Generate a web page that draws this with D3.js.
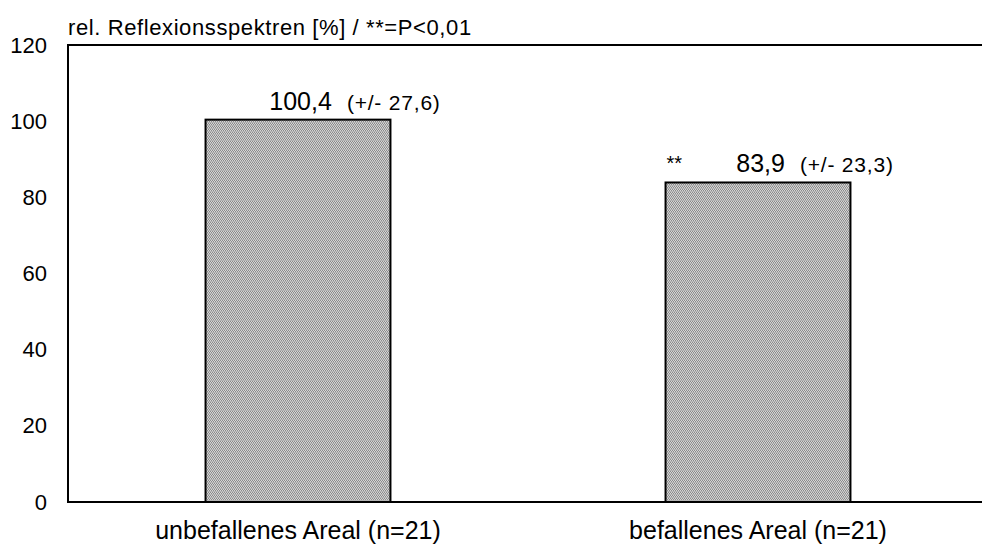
<!DOCTYPE html>
<html>
<head>
<meta charset="utf-8">
<script src="https://cdn.jsdelivr.net/npm/d3@7"></script>
<style>
  html, body { margin: 0; padding: 0; background: #fff; }
  svg { display: block; font-family: "Liberation Sans", Arial, sans-serif; }
</style>
</head>
<body>
<svg id="chart" width="982" height="546"></svg>
<script>
// Relative reflection spectra, healthy vs. affected area
const categories = ["unbefallenes Areal (n=21)", "befallenes Areal (n=21)"];
const values = [100.4, 83.9];
const valueLabels = ["100,4", "83,9"];
const sdLabels = ["(+/- 27,6)", "(+/- 23,3)"];
const significance = ["", "**"];
const yTicks = [0, 20, 40, 60, 80, 100, 120];
const yTitle = "rel. Reflexionsspektren [%] / **=P<0,01";

const svg = d3.select("#chart");
const margin = { left: 68, top: 45, bottom: 502, right: 988 };

const x = d3.scaleBand()
  .domain(categories)
  .range([margin.left, margin.right])
  .paddingInner(0.598)
  .paddingOuter(0.299);

const y = d3.scaleLinear()
  .domain([0, 120])
  .range([margin.bottom, margin.top]);

// dithered grey fill
const defs = svg.append("defs");
const pat = defs.append("pattern")
  .attr("id", "dither")
  .attr("patternUnits", "userSpaceOnUse")
  .attr("width", 2).attr("height", 3);
pat.append("rect").attr("width", 2).attr("height", 3).attr("fill", "#d6d6d6");
pat.append("rect").attr("x", 0).attr("y", 0).attr("width", 1).attr("height", 1).attr("fill", "#8a8a8a");
pat.append("rect").attr("x", 1).attr("y", 1).attr("width", 1).attr("height", 1).attr("fill", "#8a8a8a");
pat.append("rect").attr("x", 0).attr("y", 2).attr("width", 2).attr("height", 1).attr("fill", "#b4b4b4");

// bars
svg.append("g").selectAll("rect")
  .data(values)
  .join("rect")
  .attr("x", (d, i) => x(categories[i]))
  .attr("y", d => y(d))
  .attr("width", x.bandwidth())
  .attr("height", d => y(0) - y(d))
  .attr("fill", "url(#dither)")
  .attr("stroke", "#000")
  .attr("stroke-width", 2);

// axes frame: left, bottom and top line
svg.append("line")
  .attr("x1", margin.left).attr("x2", margin.left)
  .attr("y1", y(120)).attr("y2", y(0))
  .attr("stroke", "#000").attr("stroke-width", 2);
svg.append("line")
  .attr("x1", margin.left - 1).attr("x2", 982)
  .attr("y1", y(0)).attr("y2", y(0))
  .attr("stroke", "#000").attr("stroke-width", 2);
svg.append("line")
  .attr("x1", margin.left - 1).attr("x2", 982)
  .attr("y1", y(120)).attr("y2", y(120))
  .attr("stroke", "#000").attr("stroke-width", 2);

// y tick labels
const yAxis = d3.axisLeft(y).tickValues(yTicks).tickSize(0).tickPadding(21);
const gy = svg.append("g")
  .attr("transform", `translate(${margin.left},0)`)
  .call(yAxis);
gy.select(".domain").remove();
gy.selectAll("text")
  .attr("font-family", "Liberation Sans, Arial, sans-serif")
  .attr("font-size", 22)
  .attr("fill", "#000");

// axis title
svg.append("text")
  .attr("x", 68).attr("y", 35)
  .attr("font-size", 22)
  .attr("letter-spacing", 0.6)
  .text(yTitle);

// category labels
svg.append("g").selectAll("text")
  .data(categories)
  .join("text")
  .attr("x", d => x(d) + x.bandwidth() / 2)
  .attr("y", 539)
  .attr("text-anchor", "middle")
  .attr("font-size", 25)
  .text(d => d);

// value labels above bars: mean followed by standard deviation
const lab = svg.append("g");
values.forEach((v, i) => {
  const cx = x(categories[i]) + x.bandwidth() / 2;
  const by = y(v) - 10;
  const t = lab.append("text")
    .attr("x", cx + 57).attr("y", by)
    .attr("text-anchor", "middle");
  t.append("tspan")
    .attr("font-size", 25)
    .text(valueLabels[i]);
  t.append("tspan")
    .attr("dx", 15)
    .attr("font-size", 21)
    .attr("letter-spacing", 0.8)
    .text(sdLabels[i]);
  if (significance[i]) {
    lab.append("text")
      .attr("x", x(categories[i]) + 1).attr("y", by - 2)
      .attr("font-size", 20)
      .text(significance[i]);
  }
});
</script>
</body>
</html>
